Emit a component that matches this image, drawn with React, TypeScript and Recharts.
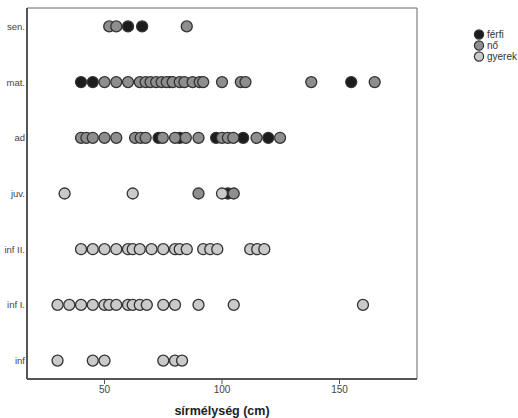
import React from "react";
import {
  ScatterChart,
  Scatter,
  XAxis,
  YAxis,
  ReferenceArea,
} from "recharts";

const categories = ["inf", "inf I.", "inf II.", "juv.", "ad", "mat.", "sen."];
const xTicks = [50, 100, 150];

// grave depth (cm) per age group, one list per sex
const ferfiDepths: Record<string, number[]> = {
  "sen.": [60, 66],
  "mat.": [40, 45, 77.7, 155],
  ad: [73, 82, 97.5, 109, 119.7],
  "juv.": [102.5],
};

const noDepths: Record<string, number[]> = {
  "sen.": [52, 55, 85],
  "mat.": [50, 55, 60, 65, 67.5, 69.6, 72, 74.3, 76.5, 79, 82, 84, 87.5, 90.5, 92, 100, 108, 110, 138, 165],
  ad: [40, 42.3, 45, 50, 55, 63, 65.4, 67.5, 74.8, 80, 84.6, 90, 100, 102.5, 104.8, 114.7, 124.7],
  "juv.": [90, 105],
};

const gyerekDepths: Record<string, number[]> = {
  "juv.": [33, 62, 100],
  "inf II.": [40, 45, 50, 55, 60, 62, 65, 70, 75, 80, 82, 85, 92, 95, 98, 112, 115, 118],
  "inf I.": [30, 35, 40, 45, 50, 52, 55, 60, 62, 65, 68, 75, 80, 90, 105, 160],
  inf: [30, 45, 50, 75, 80, 83],
};

const toPoints = (depths: Record<string, number[]>) =>
  Object.entries(depths).flatMap(([cat, values]) =>
    values.map((v) => ({ x: v, y: categories.indexOf(cat) + 1 }))
  );

const series = [
  { name: "férfi", fill: "#1c1c1c", data: toPoints(ferfiDepths) },
  { name: "nő", fill: "#8e8e8e", data: toPoints(noDepths) },
  { name: "gyerek", fill: "#cacaca", data: toPoints(gyerekDepths) },
];

const FONT = "Arial, 'Liberation Sans', sans-serif";

const dot = (fill: string) => (props: any) => (
  <circle
    cx={props.cx}
    cy={props.cy}
    r={5.5}
    fill={fill}
    stroke="#333"
    strokeWidth={1.3}
  />
);

const CategoryTick = (props: any) => (
  <text
    x={props.x}
    y={props.y}
    dy={3.5}
    textAnchor="end"
    fontSize={9.5}
    fill="#444"
    fontFamily={FONT}
  >
    {categories[props.payload.value - 1]}
  </text>
);

export default function App() {
  return (
    <div style={{ position: "absolute", left: 0, top: 0, width: 518, height: 418, background: "#fff", fontFamily: FONT }}>
      <ScatterChart
        width={518}
        height={418}
        margin={{ top: 8, right: 101, bottom: 3, left: 2 }}
      >
        <ReferenceArea
          x1={17}
          x2={183}
          y1={0.67}
          y2={7.33}
          fill="none"
          stroke="#666"
          strokeWidth={1}
          ifOverflow="visible"
        />
        <XAxis
          type="number"
          dataKey="x"
          domain={[17, 183]}
          ticks={xTicks}
          height={36}
          axisLine={{ stroke: "#555", strokeWidth: 2 }}
          tickLine={{ stroke: "#555" }}
          tickSize={5}
          tickMargin={2}
          tick={{ fontSize: 10, fill: "#444", fontFamily: FONT }}
          label={{
            value: "sírmélység (cm)",
            position: "insideBottom",
            offset: 0,
            style: { fontSize: 12.5, fontWeight: "bold", fill: "#222", fontFamily: FONT },
          }}
        />
        <YAxis
          type="number"
          dataKey="y"
          domain={[0.67, 7.33]}
          ticks={[1, 2, 3, 4, 5, 6, 7]}
          width={25}
          axisLine={{ stroke: "#555", strokeWidth: 2 }}
          tickLine={false}
          tickSize={0}
          tickMargin={2}
          tick={<CategoryTick />}
        />
        {series.map((s) => (
          <Scatter
            key={s.name}
            name={s.name}
            data={s.data}
            fill={s.fill}
            shape={dot(s.fill)}
            isAnimationActive={false}
          />
        ))}
      </ScatterChart>
      <div style={{ position: "absolute", left: 473, top: 29, fontSize: 10, color: "#333", lineHeight: "11px" }}>
        {series.map((s) => (
          <div key={s.name} style={{ display: "flex", alignItems: "center" }}>
            <svg width={13} height={11}>
              <circle cx={6} cy={5.5} r={4.6} fill={s.fill} stroke="#333" strokeWidth={1.2} />
            </svg>
            <span style={{ marginLeft: 1 }}>{s.name}</span>
          </div>
        ))}
      </div>
    </div>
  );
}
